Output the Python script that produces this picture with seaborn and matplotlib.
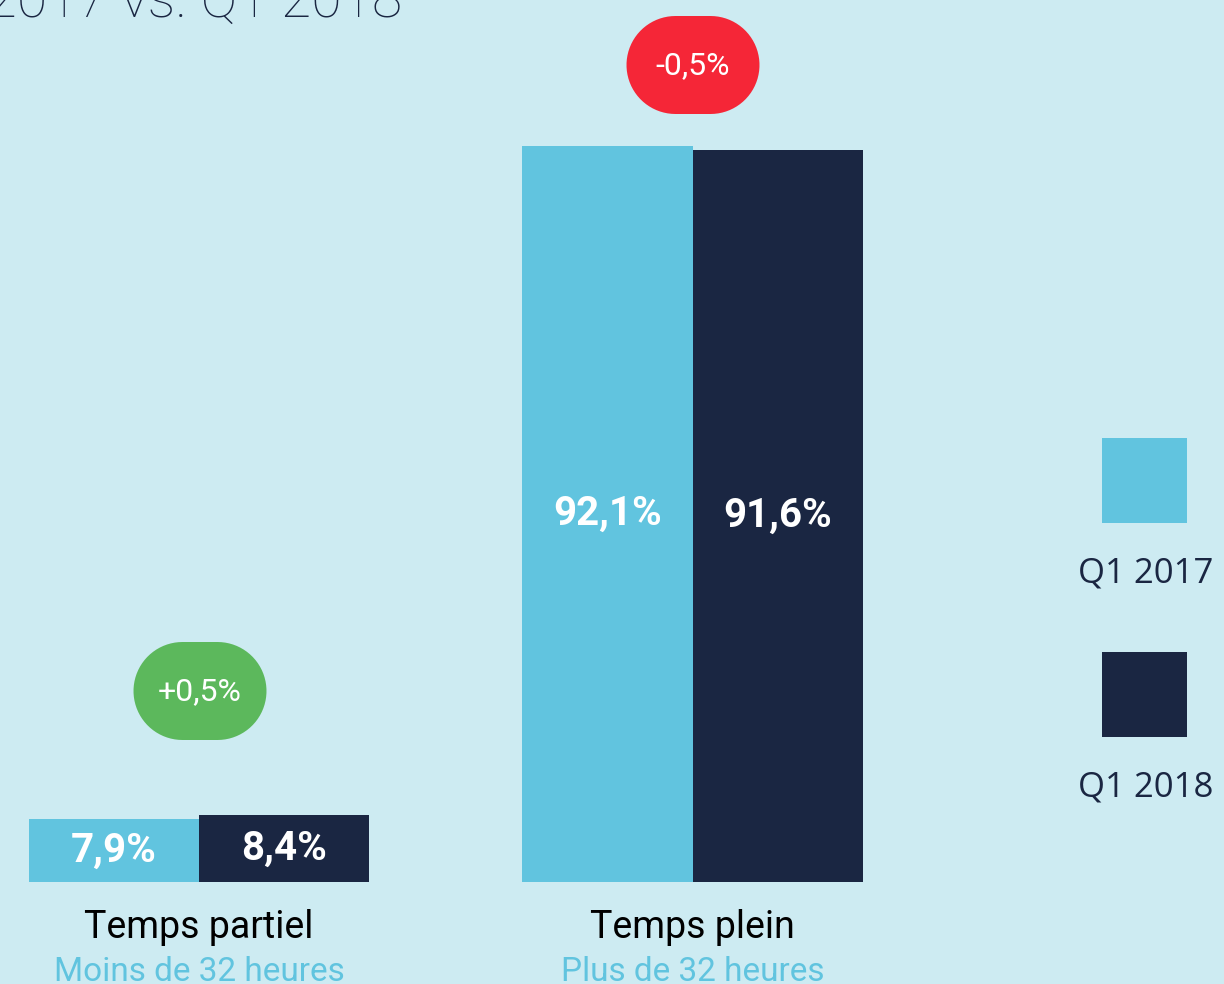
import matplotlib
matplotlib.use("Agg")
import matplotlib.pyplot as plt
import seaborn as sns
import pandas as pd
import numpy as np
from matplotlib.patches import PathPatch, Rectangle
from matplotlib.path import Path
from matplotlib.transforms import IdentityTransform, blended_transform_factory

categories = ["Temps partiel", "Temps plein"]
subtitles = ["Moins de 32 heures", "Plus de 32 heures"]
periods = ["Q1 2017", "Q1 2018"]
values_2017 = [7.9, 92.1]
values_2018 = [8.4, 91.6]
value_labels_2017 = ["7,9%", "92,1%"]
value_labels_2018 = ["8,4%", "91,6%"]
changes = ["+0,5%", "-0,5%"]
title = "Q1 2017 vs. Q1 2018"

BG = "#CDEBF2"
LIGHT = "#61C4DF"
NAVY = "#1A2642"
GREEN = "#5CB85C"
RED = "#F52637"

sns.set_theme(style="white")
plt.rcParams["font.family"] = ["Roboto", "DejaVu Sans"]

df = pd.DataFrame({
    "cat": categories * 2,
    "period": [periods[0]] * 2 + [periods[1]] * 2,
    "val": values_2017 + values_2018,
})

W, H = 1224, 984
fig = plt.figure(figsize=(W / 100, H / 100), dpi=100, facecolor=BG)
ax = fig.add_axes([0, 0, 1, 1])
ax.set_facecolor(BG)

sns.barplot(data=df, x="cat", y="val", hue="period", palette=[LIGHT, NAVY],
            width=0.69, saturation=1, legend=False, linewidth=0, ax=ax,
            errorbar=None)

unit = 493.5  # px per category
xc0 = 199.0
ppu = 7.99    # px per percentage point
base = 882.0
ax.set_xlim(-xc0 / unit, (W - xc0) / unit)
ax.set_ylim(-(H - base) / ppu, base / ppu)
ax.axis("off")

# value labels in the middle of each bar
for cont, labs in zip(ax.containers, [value_labels_2017, value_labels_2018]):
    for bar, lab in zip(cont, labs):
        ax.text(bar.get_x() + bar.get_width() / 2, bar.get_height() / 2, lab,
                ha="center", va="center", color="white", fontsize=29,
                fontweight="bold")

# category labels
tr = blended_transform_factory(ax.transData, ax.transAxes)
for i, (c, s) in enumerate(zip(categories, subtitles)):
    ax.text(i, 1 - 938 / H, c, transform=tr, ha="center", va="baseline",
            fontsize=27, color="black")
    ax.text(i, 1 - 981 / H, s, transform=tr, ha="center", va="baseline",
            fontsize=24, color=LIGHT)


def stadium(cx, cy, w, h):
    r = h / 2
    half = w / 2 - r
    t1 = np.linspace(-np.pi / 2, np.pi / 2, 40)
    t2 = np.linspace(np.pi / 2, 3 * np.pi / 2, 40)
    right = np.column_stack([cx + half + r * np.cos(t1), cy + r * np.sin(t1)])
    left = np.column_stack([cx - half + r * np.cos(t2), cy + r * np.sin(t2)])
    verts = np.vstack([right, left, right[:1]])
    codes = [Path.MOVETO] + [Path.LINETO] * (len(verts) - 2) + [Path.CLOSEPOLY]
    return Path(verts, codes)


# change badges
badge_centers = [(200, 691), (693, 65)]
badge_colors = [GREEN, RED]
bw, bh = 133, 98
for (cx, cy), col, txt in zip(badge_centers, badge_colors, changes):
    p = PathPatch(stadium(cx, H - cy, bw, bh), transform=IdentityTransform(),
                  facecolor=col, edgecolor="none")
    fig.patches.append(p)
    fig.text(cx / W, 1 - (cy + 1) / H, txt, ha="center", va="center",
             color="white", fontsize=23)

# legend
leg_y = [438, 652]
for y, col, lab in zip(leg_y, [LIGHT, NAVY], periods):
    fig.patches.append(Rectangle((1102 / W, 1 - (y + 85) / H), 85 / W, 85 / H,
                                 transform=fig.transFigure, facecolor=col,
                                 edgecolor="none"))
    fig.text(1146 / W, 1 - (y + 145) / H, lab, ha="center", va="baseline",
             fontsize=25, color=NAVY, family=["Open Sans", "DejaVu Sans"])

# title (cut off at top-left in the reference)
fig.text(402 / W, 1 - 17 / H, title, ha="right", va="baseline",
         fontsize=40, color=NAVY, fontweight="light")

fig.savefig("out.png", dpi=100, facecolor=BG)
